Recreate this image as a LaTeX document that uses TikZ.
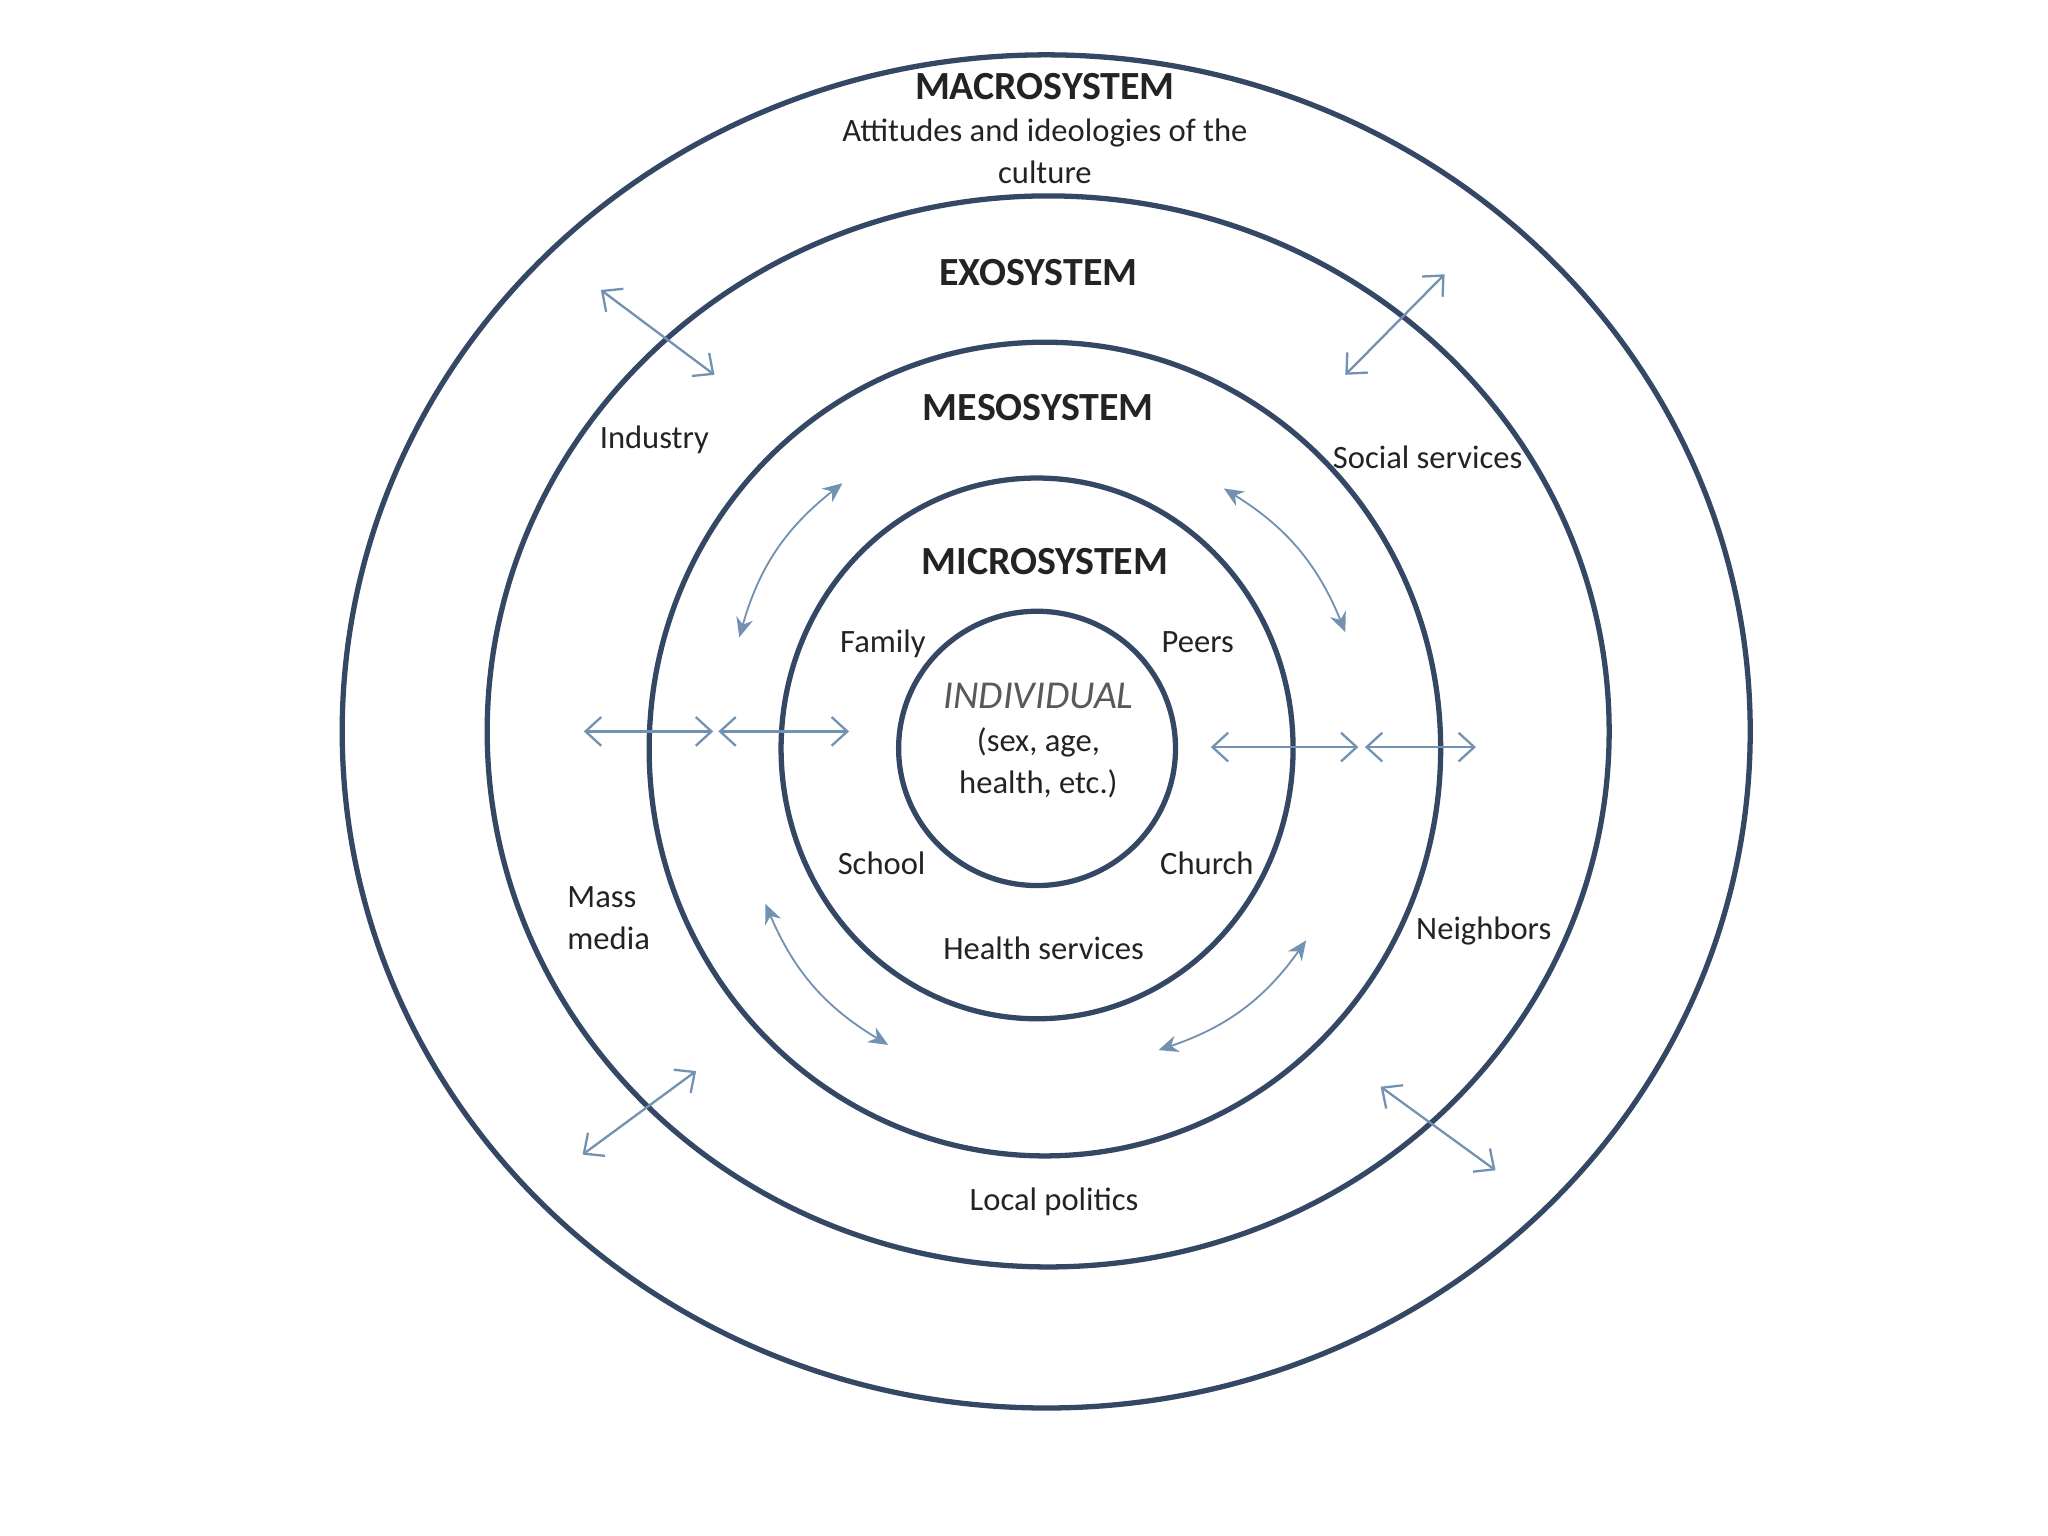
\documentclass[tikz,border=0pt]{standalone}
\usepackage{fontspec}
\setmainfont{Carlito}
\usepackage{xcolor}
\usetikzlibrary{shapes.geometric, arrows.meta, positioning}
\definecolor{ringblue}{RGB}{52,72,102}
\definecolor{arrowblue}{RGB}{115,146,178}
\definecolor{inkgray}{RGB}{35,35,35}
\tikzset{
    ring/.style={ellipse, draw=ringblue, line width=1.15pt, inner sep=0pt, outer sep=0pt},
    systitle/.style={font=\fontsize{8.7}{10}\selectfont\bfseries, text=inkgray},
    itemtext/.style={font=\fontsize{7.1}{9.2}\selectfont, text=inkgray, align=center, inner sep=1pt},
    arrow/.style={draw=arrowblue, line width=0.5pt, {Straight Barb[length=1.2mm, width=2.2mm]}-{Straight Barb[length=1.2mm, width=2.2mm]}},
    curvearrow/.style={draw=arrowblue, line width=0.4pt, {Stealth[length=1.5mm, width=1.3mm]}-{Stealth[length=1.5mm, width=1.3mm]}}
}

\begin{document}
\begin{tikzpicture}
    \useasboundingbox (0,0) rectangle (15.68,-11.76);
    \fill[white] (0,0) rectangle (15.68,-11.76);

    % rings
    \node (macro) [ring, minimum width=10.78cm, minimum height=10.36cm] at (8.01,-5.60) {};
    \node (exo) [ring, minimum width=8.59cm, minimum height=8.20cm] at (8.025,-5.60) {};
    \node (meso) [ring, minimum width=6.06cm, minimum height=6.23cm] at (8.00,-5.735) {};
    \node (micro) [ring, minimum width=3.92cm, minimum height=4.14cm] at (7.94,-5.73) {};
    \node (indiv) [ring, minimum width=2.12cm, minimum height=2.10cm] at (7.94,-5.73) {};

    % titles
    \node (macrotitle) [systitle] at (8.00,-0.66) {MACROSYSTEM};
    \node (culture) [itemtext] at (8.00,-1.16) {Attitudes and ideologies of the\\culture};
    \node (exotitle) [systitle] at (7.95,-2.09) {EXOSYSTEM};
    \node (mesotitle) [systitle] at (7.95,-3.12) {MESOSYSTEM};
    \node (microtitle) [systitle] at (8.00,-4.30) {MICROSYSTEM};
    \node (indivtitle) [itemtext, font=\fontsize{8.6}{10}\selectfont\itshape, text=black!65] at (7.95,-5.33) {INDIVIDUAL};
    \node (traits) [itemtext] at (7.95,-5.84) {(sex, age,\\health, etc.)};

    % settings
    \node (industry) [itemtext] at (5.01,-3.37) {Industry};
    \node (social) [itemtext] at (10.93,-3.50) {Social services};
    \node (family) [itemtext] at (6.76,-4.93) {Family};
    \node (peers) [itemtext] at (9.17,-4.92) {Peers};
    \node (school) [itemtext] at (6.75,-6.61) {School};
    \node (church) [itemtext] at (9.24,-6.61) {Church};
    \node (massmedia) [itemtext, align=left] at (4.66,-7.03) {Mass\\media};
    \node (health) [itemtext] at (7.99,-7.26) {Health services};
    \node (neighbors) [itemtext] at (11.36,-7.13) {Neighbors};
    \node (politics) [itemtext] at (8.07,-9.20) {Local politics};

    % arrow ends
    \coordinate (nwa) at (4.60,-2.22);   \coordinate (nwb) at (5.47,-2.87);
    \coordinate (nea) at (11.06,-2.10);  \coordinate (neb) at (10.30,-2.87);
    \coordinate (swa) at (5.33,-8.20);   \coordinate (swb) at (4.46,-8.84);
    \coordinate (sea) at (10.57,-8.32);  \coordinate (seb) at (11.45,-8.96);
    \coordinate (cula) at (6.45,-3.70);  \coordinate (culb) at (5.66,-4.88);
    \coordinate (cura) at (9.37,-3.74);  \coordinate (curb) at (10.30,-4.84);
    \coordinate (clla) at (5.86,-6.92);  \coordinate (cllb) at (6.80,-8.00);
    \coordinate (clra) at (10.00,-7.20); \coordinate (clrb) at (8.87,-8.04);
    \coordinate (wa) at (4.47,-5.60);    \coordinate (wb) at (5.46,-5.60);
    \coordinate (wc) at (5.50,-5.60);    \coordinate (wd) at (6.50,-5.60);
    \coordinate (ea) at (9.27,-5.72);    \coordinate (eb) at (10.40,-5.72);
    \coordinate (ec) at (10.45,-5.72);   \coordinate (ed) at (11.30,-5.72);

    % arrows
    \draw [arrow] (nwa) -- (nwb);
    \draw [arrow] (nea) -- (neb);
    \draw [arrow] (swa) -- (swb);
    \draw [arrow] (sea) -- (seb);
    \draw [arrow] (wa) -- (wb);
    \draw [arrow] (wc) -- (wd);
    \draw [arrow] (ea) -- (eb);
    \draw [arrow] (ec) -- (ed);
    \draw [curvearrow] (cula) to[bend right=18] (culb);
    \draw [curvearrow] (cura) to[bend left=18] (curb);
    \draw [curvearrow] (clla) to[bend right=18] (cllb);
    \draw [curvearrow] (clra) to[bend left=18] (clrb);
\end{tikzpicture}
\end{document}
